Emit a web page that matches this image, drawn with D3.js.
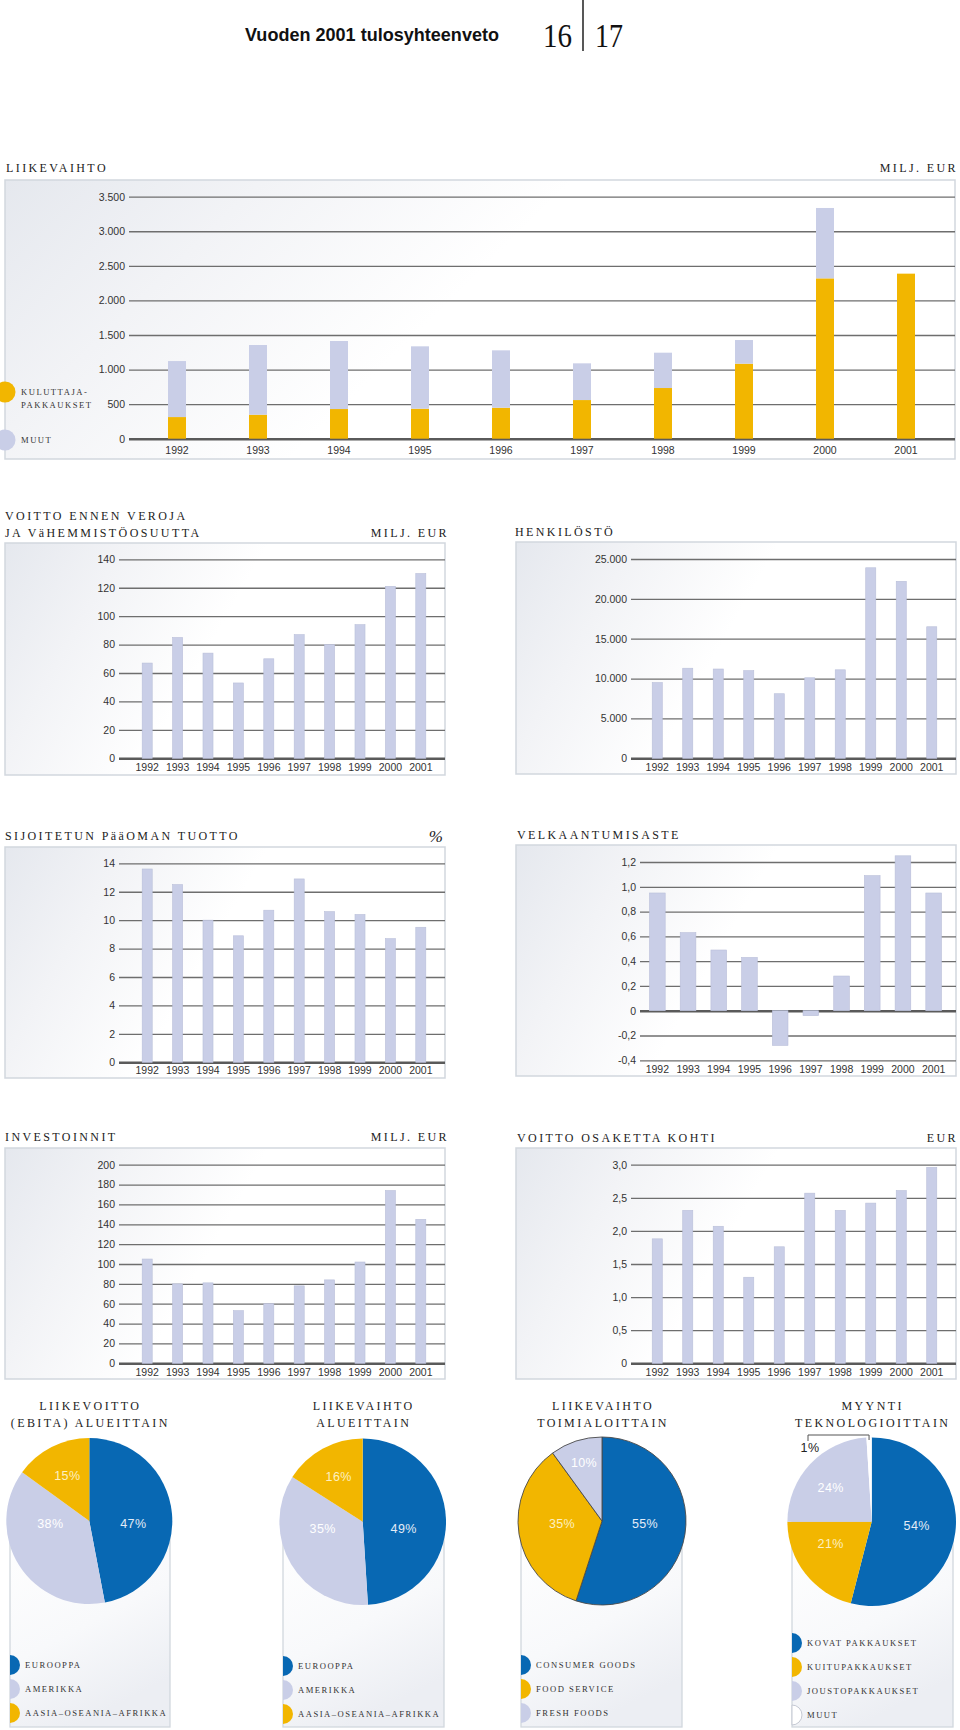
<!DOCTYPE html>
<html><head><meta charset="utf-8">
<script src="https://cdn.jsdelivr.net/npm/d3@7"></script>
<style>
body{margin:0;background:#fff}
svg{display:block}
.ttl{font-family:"Liberation Serif","Times New Roman",serif;font-size:12px;letter-spacing:2.4px;fill:#222}
.tick text{font-family:"Liberation Sans",Arial,sans-serif;font-size:10.5px;fill:#333}
.leg{font-family:"Liberation Serif","Times New Roman",serif;font-size:8.6px;letter-spacing:1.5px;fill:#333}
.pct{font-family:"Liberation Sans",Arial,sans-serif;font-size:12.5px;letter-spacing:0.4px}
</style></head><body>
<svg id="c" width="960" height="1730"></svg>
<script>
// ---------- DATA ----------
const years = [1992,1993,1994,1995,1996,1997,1998,1999,2000,2001];
const liikevaihtoKuluttaja = [313,347,429,434,448,559,733,1085,2319,2387];
const liikevaihtoMuut      = [810,1008,984,902,830,531,511,342,1018,0];
const liikevaihtoTicks = [0,500,1000,1500,2000,2500,3000,3500];
const voittoEnnenVeroja = [67,85,74,53,70,87,80,94,121,130];
const voittoTicks = [0,20,40,60,80,100,120,140];
const henkilosto = [9500,11300,11200,11000,8100,10100,11100,23900,22200,16500];
const henkilostoTicks = [0,5000,10000,15000,20000,25000];
const sijoitetunTuotto = [13.6,12.5,10.0,8.9,10.7,12.9,10.6,10.4,8.7,9.5];
const tuottoTicks = [0,2,4,6,8,10,12,14];
const velkaantumisaste = [0.95,0.63,0.49,0.43,-0.28,-0.04,0.28,1.09,1.25,0.95];
const velkaTicks = [-0.4,-0.2,0,0.2,0.4,0.6,0.8,1.0,1.2];
const investoinnit = [105,80,81,53,60,78,84,102,174,145];
const investTicks = [0,20,40,60,80,100,120,140,160,180,200];
const voittoOsake = [1.88,2.31,2.07,1.30,1.76,2.57,2.31,2.42,2.61,2.96];
const osakeTicks = [0,0.5,1.0,1.5,2.0,2.5,3.0];

const ebitaLabels = ["EUROOPPA","AMERIKKA","AASIA–OSEANIA–AFRIKKA"];
const ebitaValues = [47,38,15];
const alueLabels = ["EUROOPPA","AMERIKKA","AASIA–OSEANIA–AFRIKKA"];
const alueValues = [49,35,16];
const toimialaLabels = ["CONSUMER GOODS","FOOD SERVICE","FRESH FOODS"];
const toimialaValues = [55,35,10];
const teknoLabels = ["KOVAT PAKKAUKSET","KUITUPAKKAUKSET","JOUSTOPAKKAUKSET","MUUT"];
const teknoValues = [54,21,24,1];

// ---------- STYLE ----------
const BLUE="#0868b3", YEL="#f2b600", LIGHT="#c9cee7", WHITE="#ffffff";
const svg = d3.select("#c");
const defs = svg.append("defs");
const gH = defs.append("linearGradient").attr("id","gH").attr("x1",0).attr("x2",1).attr("y1",0).attr("y2",0.3);
[[0,"#e5e8ee"],[0.25,"#f2f3f6"],[0.55,"#ffffff"],[1,"#ffffff"]].forEach(s=>gH.append("stop").attr("offset",s[0]).attr("stop-color",s[1]));
const gV = defs.append("linearGradient").attr("id","gV").attr("x1",0).attr("x2",0.4).attr("y1",0).attr("y2",1);
[[0,"#ffffff"],[0.6,"#f8f9fb"],[1,"#eceef3"]].forEach(s=>gV.append("stop").attr("offset",s[0]).attr("stop-color",s[1]));

const fi = d3.formatLocale({decimal:",",thousands:".",grouping:[3],currency:["","€"],minus:"-"});
const fInt = fi.format(",d");
const f1 = d => Math.abs(d) < 1e-9 ? "0" : fi.format(".1f")(d);

function title(x, y, txt, anchor){
  svg.append("text").attr("class","ttl").attr("x",x).attr("y",y)
    .attr("text-anchor",anchor||"start").text(txt);
}

// ---------- HEADER ----------
svg.append("text").attr("x",245).attr("y",41).attr("textLength",254).attr("lengthAdjust","spacingAndGlyphs")
  .style("font-family","'Liberation Sans',Arial,sans-serif")
  .style("font-weight","bold").style("font-size","18px").style("fill","#111")
  .text("Vuoden 2001 tulosyhteenveto");
svg.append("text").attr("x",543).attr("y",47).attr("textLength",29).attr("lengthAdjust","spacingAndGlyphs")
  .style("font-family","'Liberation Serif',serif").style("font-size","33px").style("fill","#111").text("16");
svg.append("text").attr("x",595).attr("y",47).attr("textLength",28).attr("lengthAdjust","spacingAndGlyphs")
  .style("font-family","'Liberation Serif',serif").style("font-size","33px").style("fill","#111").text("17");
svg.append("line").attr("x1",583).attr("x2",583).attr("y1",0).attr("y2",51).attr("stroke","#111").attr("stroke-width",1.4);

// ---------- BAR CHART ----------
function barChart(o){
  svg.append("rect").attr("x",o.panel[0]).attr("y",o.panel[1])
    .attr("width",o.panel[2]-o.panel[0]).attr("height",o.panel[3]-o.panel[1])
    .attr("fill","url(#gH)").attr("stroke","#d2d7de").attr("stroke-width",1.5);
  const y = d3.scaleLinear().domain([o.ticks[0], o.ticks[o.ticks.length-1]]).range(o.yr);
  const x = d3.scaleBand().domain(years).range(o.xr).paddingInner(o.pad).paddingOuter(o.pad/2);
  const ax = d3.axisLeft(y).tickValues(o.ticks).tickFormat(o.fmt)
    .tickSizeInner(-(o.gx[1]-o.gx[0])).tickSizeOuter(0).tickPadding(4);
  const g = svg.append("g").attr("transform",`translate(${o.gx[0]},0)`).call(ax);
  g.select(".domain").remove();
  g.selectAll(".tick line").attr("stroke","#6e6e6e").attr("stroke-width",1.3);
  g.selectAll(".tick").filter(d=>Math.abs(d)<1e-9).select("line").attr("stroke","#5a5a5a").attr("stroke-width",2.6);

  if (o.stack){
    const rows = years.map((yr,i)=>({yr, k:o.stack[0][i], m:o.stack[1][i]}));
    const series = d3.stack().keys(["k","m"])(rows);
    const cols = [YEL, LIGHT];
    svg.append("g").selectAll("g").data(series).join("g").attr("fill",(d,i)=>cols[i])
      .selectAll("rect").data(d=>d.filter(s=>s[1]-s[0]>0)).join("rect")
      .attr("x",d=>x(d.data.yr)).attr("width",x.bandwidth())
      .attr("y",d=>y(d[1])).attr("height",d=>y(d[0])-y(d[1]));
  } else {
    svg.append("g").selectAll("rect").data(years.map((yr,i)=>({yr,v:o.values[i]}))).join("rect")
      .attr("x",d=>x(d.yr)).attr("width",x.bandwidth())
      .attr("y",d=>y(Math.max(0,d.v))).attr("height",d=>Math.abs(y(d.v)-y(0)))
      .attr("fill",LIGHT).attr("stroke","#b9bfd9").attr("stroke-width",0.6);
  }
  const xa = svg.append("g").attr("transform",`translate(0,${o.yearY})`)
    .call(d3.axisBottom(x).tickSize(0).tickPadding(0));
  xa.select(".domain").remove();
  xa.selectAll("text").attr("y",0).attr("dy","0.35em");
}

// Chart 1: LIIKEVAIHTO
title(6,172,"LIIKEVAIHTO");
title(958,172,"MILJ. EUR","end");
barChart({panel:[5,180,955,459], gx:[129,955], yr:[438.7,196.7], xr:[136.5,946.5], pad:0.778,
  ticks:liikevaihtoTicks, fmt:fInt, stack:[liikevaihtoKuluttaja, liikevaihtoMuut], yearY:450});
// legend chart 1
svg.append("circle").attr("cx",5).attr("cy",392).attr("r",10.5).attr("fill",YEL);
svg.append("circle").attr("cx",5).attr("cy",440).attr("r",10.5).attr("fill",LIGHT);
svg.append("text").attr("class","leg").attr("x",21).attr("y",395).text("KULUTTAJA-");
svg.append("text").attr("class","leg").attr("x",21).attr("y",408).text("PAKKAUKSET");
svg.append("text").attr("class","leg").attr("x",21).attr("y",443).text("MUUT");

// Chart 2: VOITTO ENNEN VEROJA
title(5,520,"VOITTO ENNEN VEROJA");
title(449,537,"MILJ. EUR","end");
title(5,537,"JA VäHEMMISTÖOSUUTTA");
barChart({panel:[5,543,445,775], gx:[119,445], yr:[758.3,559.3], xr:[132,436], pad:0.67,
  ticks:voittoTicks, fmt:fInt, values:voittoEnnenVeroja, yearY:767});

// Chart 3: HENKILÖSTÖ
title(515,536,"HENKILÖSTÖ");
barChart({panel:[516,542,956,774], gx:[631,956], yr:[758.3,559], xr:[642,947], pad:0.67,
  ticks:henkilostoTicks, fmt:fInt, values:henkilosto, yearY:767});

// Chart 4: SIJOITETUN PÄÄOMAN TUOTTO
title(5,840,"SIJOITETUN PääOMAN TUOTTO");
svg.append("text").attr("x",443).attr("y",842).attr("text-anchor","end")
  .style("font-family","'Liberation Serif',serif").style("font-style","italic").style("font-size","17px").style("fill","#222").text("%");
barChart({panel:[5,847,445,1078], gx:[119,445], yr:[1062.3,863.3], xr:[132,436], pad:0.67,
  ticks:tuottoTicks, fmt:fInt, values:sijoitetunTuotto, yearY:1070});

// Chart 5: VELKAANTUMISASTE
title(517,839,"VELKAANTUMISASTE");
barChart({panel:[516,845,956,1076], gx:[640,956], yr:[1060.3,862], xr:[642,949], pad:0.49,
  ticks:velkaTicks, fmt:f1, values:velkaantumisaste, yearY:1069});

// Chart 6: INVESTOINNIT
title(5,1141,"INVESTOINNIT");
title(449,1141,"MILJ. EUR","end");
barChart({panel:[5,1148,445,1379], gx:[119,445], yr:[1363.3,1164.7], xr:[132,436], pad:0.67,
  ticks:investTicks, fmt:fInt, values:investoinnit, yearY:1372});

// Chart 7: VOITTO OSAKETTA KOHTI
title(517,1142,"VOITTO OSAKETTA KOHTI");
title(958,1142,"EUR","end");
barChart({panel:[516,1148,956,1379], gx:[631,956], yr:[1363.3,1164.7], xr:[642,947], pad:0.67,
  ticks:osakeTicks, fmt:f1, values:voittoOsake, yearY:1372});

// ---------- PIES ----------
function pieChart(o){
  svg.append("rect").attr("x",o.px[0]).attr("y",o.cy).attr("width",o.px[1]-o.px[0]).attr("height",1727-o.cy)
    .attr("fill","url(#gV)").attr("stroke","#d2d7de").attr("stroke-width",1.3);
  o.titles.forEach((t,i)=>title(o.cx+1, 1410+17*i, t, "middle"));
  const arcs = d3.pie().sort(null)(o.values);
  const arc = d3.arc().innerRadius(0).outerRadius(o.r);
  svg.append("g").attr("transform",`translate(${o.cx},${o.cy})`)
    .selectAll("path").data(arcs).join("path").attr("d",arc)
    .attr("fill",(d,i)=>o.colors[i])
    .attr("stroke",o.stroke||"none").attr("stroke-width",o.stroke?0.9:0);
  o.values.forEach((v,i)=>{
    if(!o.pos[i]) return;
    svg.append("text").attr("class","pct").attr("x",o.cx+o.pos[i][0]).attr("y",o.cy+o.pos[i][1])
      .attr("dy","0.35em").attr("text-anchor","middle").attr("fill",o.tcol[i]).text(v+"%");
  });
  const half = d3.arc()({innerRadius:0,outerRadius:10,startAngle:0,endAngle:Math.PI});
  o.labels.forEach((l,i)=>{
    const ly = o.ly0 + 24*i;
    svg.append("path").attr("d",half).attr("transform",`translate(${o.px[0]},${ly})`)
      .attr("fill",o.colors[i]).attr("stroke",o.colors[i]===WHITE?"#c5c9d3":"none");
    svg.append("text").attr("class","leg").attr("x",o.px[0]+15).attr("y",ly).attr("dy","0.35em").text(l);
  });
  return {arcs, arc};
}

pieChart({cx:89.3, cy:1521, r:83, px:[10,170], titles:["LIIKEVOITTO","(EBITA) ALUEITTAIN"],
  values:ebitaValues, labels:ebitaLabels, colors:[BLUE,LIGHT,YEL],
  pos:[[44,3],[-39,3],[-22,-45]], tcol:["#e3ecf7","#ffffff","#fdf0c2"], ly0:1665});
pieChart({cx:362.7, cy:1521.7, r:83.3, px:[283,444], titles:["LIIKEVAIHTO","ALUEITTAIN"],
  values:alueValues, labels:alueLabels, colors:[BLUE,LIGHT,YEL],
  pos:[[41,7],[-40,7],[-24,-45]], tcol:["#e3ecf7","#ffffff","#fdf0c2"], ly0:1666});
pieChart({cx:602, cy:1521, r:84, px:[521,682], titles:["LIIKEVAIHTO","TOIMIALOITTAIN"],
  values:toimialaValues, labels:toimialaLabels, colors:[BLUE,YEL,LIGHT], stroke:"#4a4a4a",
  pos:[[43,3],[-40,3],[-18,-58]], tcol:["#e3ecf7","#fdf0c2","#ffffff"], ly0:1665});
const p4 = pieChart({cx:871.7, cy:1521.7, r:84.3, px:[792,953], titles:["MYYNTI","TEKNOLOGIOITTAIN"],
  values:teknoValues, labels:teknoLabels, colors:[BLUE,YEL,LIGHT,WHITE],
  pos:[[45,4],[-41,22],[-41,-34]], tcol:["#e3ecf7","#fdf0c2","#ffffff"], ly0:1643});
// 1% bracket
const sm = p4.arcs[3]; const am = (sm.startAngle+sm.endAngle)/2;
const bx = 871.7 + 84.3*Math.sin(am);
svg.append("path").attr("d",`M808,1441V1435H${bx}V1440`).attr("fill","none").attr("stroke","#555").attr("stroke-width",1);
svg.append("text").attr("class","pct").attr("x",810).attr("y",1448).attr("dy","0.35em").attr("text-anchor","middle")
  .attr("fill","#222").text(teknoValues[3]+"%");
</script>
</body></html>
